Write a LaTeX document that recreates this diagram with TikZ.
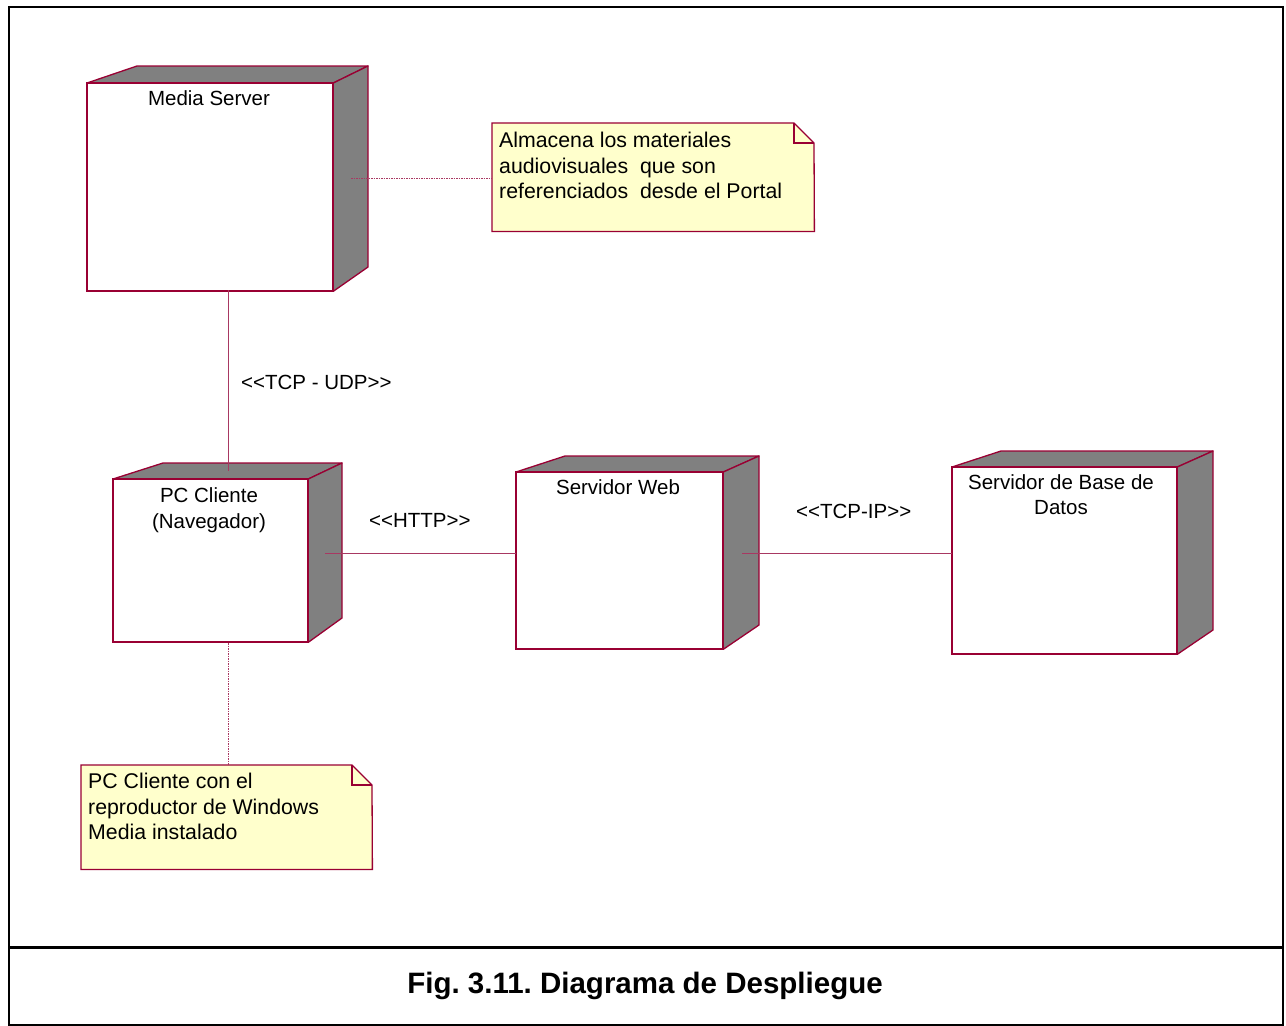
\documentclass[tikz,border=0pt]{standalone}
\usepackage{fontspec}
\setmainfont{Liberation Sans}
\usetikzlibrary{calc}
\frenchspacing
\definecolor{umlline}{HTML}{990033}
\definecolor{umlconn}{HTML}{A83862}
\definecolor{notefill}{HTML}{FFFFCC}
\definecolor{sideface}{HTML}{808080}
\begin{document}
\begin{tikzpicture}[x=1pt,y=-1pt,
  front/.style={draw=umlline,line width=1.3pt,fill=white,rectangle,anchor=north west,inner sep=0pt},
  face/.style={draw=umlline,line width=1.3pt,fill=sideface,line join=round},
  notebg/.style={rectangle,anchor=north west,inner sep=0pt},
  noteshape/.style={draw=umlline,line width=1.3pt,fill=notefill},
  txt/.style={font=\fontsize{20.5}{25.5}\selectfont,inner sep=0pt,align=center},
  notetxt/.style={font=\fontsize{21.3}{25.5}\selectfont,inner sep=0pt,align=left,anchor=north west},
  conn/.style={draw=umlconn,line width=1pt},
  dotconn/.style={draw=umlconn,line width=1pt,dash pattern=on 1.5pt off 1pt},
  lbl/.style={font=\fontsize{20.5}{25.5}\selectfont,inner sep=0pt,anchor=base west}]

\useasboundingbox (0,0) rectangle (1286,1026);

% frame and caption separator
\draw[line width=2.2pt] (9,7) rectangle (1283,1025);
\draw[line width=3pt] (9,947) -- (1283,947);
\node[font=\fontsize{29.5}{34}\selectfont\bfseries,inner sep=0pt,anchor=base] (caption) at (645,993) {Fig. 3.11. Diagrama de Despliegue};

% ---- Media Server ----
\node[front,minimum width=245pt,minimum height=207pt] (ms) at (87,83) {};
\coordinate (msbl) at (137,66); \coordinate (msbr) at (368,66); \coordinate (msbb) at (368,267);
% ---- PC Cliente ----
\node[front,minimum width=194pt,minimum height=162pt] (pc) at (113,479) {};
\coordinate (pcbl) at (163,463); \coordinate (pcbr) at (342,463); \coordinate (pcbb) at (342,618);
% ---- Servidor Web ----
\node[front,minimum width=206pt,minimum height=176pt] (sw) at (516,472) {};
\coordinate (swbl) at (565,456); \coordinate (swbr) at (759,456); \coordinate (swbb) at (759,625);
% ---- Servidor de Base de Datos ----
\node[front,minimum width=224pt,minimum height=186pt] (db) at (952,467) {};
\coordinate (dbbl) at (1001,451); \coordinate (dbbr) at (1213,451); \coordinate (dbbb) at (1213,630);

% 3D faces of the nodes
\foreach \n in {ms,pc,sw,db}{
  \filldraw[face] (\n.north west) -- (\n bl) -- (\n br) -- (\n.north east) -- cycle;
  \filldraw[face] (\n.north east) -- (\n br) -- (\n bb) -- (\n.south east) -- cycle;
}
\foreach \n in {ms,pc,sw,db}{
  \draw[draw=umlline,line width=1.3pt] (\n.north west) rectangle (\n.south east);
}

% connectors, starting on the shaded faces
\coordinate (msfoot) at (228,290);
\coordinate (pctop) at (228,471);
\coordinate (pcside) at (325,553);
\coordinate (swside) at (742,553);
\coordinate (msside) at (351,178);
\coordinate (pcfoot) at (228,643);
\draw[conn] (msfoot) -- (pctop);
\draw[conn] (pcside) -- (sw.west |- pcside);
\draw[conn] (swside) -- (db.west |- swside);

% node names
\node[txt,anchor=base] (mst) at (209,105) {Media Server};
\node[txt,anchor=base] (pct) at (209,502) {PC Cliente};
\node[txt,anchor=base] (pct2) at (209,528) {(Navegador)};
\node[txt,anchor=base] (swt) at (618,494) {Servidor Web};
\node[txt,anchor=base] (dbt) at (1061,489) {Servidor de Base de};
\node[txt,anchor=base] (dbt2) at (1061,514) {Datos};

% connector stereotypes
\node[lbl] (l1) at (241,389) {<{}<TCP - UDP>{}>};
\node[lbl] (l2) at (369,527) {<{}<HTTP>{}>};
\node[lbl] (l3) at (796,518) {<{}<TCP-IP>{}>};

% notes
\node[notebg,minimum width=322pt,minimum height=108pt] (n1) at (492,123) {};
\filldraw[noteshape] (n1.north west) -- (794,123) -- (814,143) -- (n1.south east) -- (n1.south west) -- cycle;
\draw[draw=umlline,line width=1.3pt] (794,123) -- (794,143) -- (814,143);
\node[notetxt] (n1t) at (499,132) {Almacena los materiales\\audiovisuales\ \ que son\\referenciados\ \ desde el Portal};
\draw[dotconn] (msside) -- (n1.west |- msside);

\node[notebg,minimum width=291pt,minimum height=104pt] (n2) at (81,765) {};
\filldraw[noteshape] (n2.north west) -- (352,765) -- (372,785) -- (n2.south east) -- (n2.south west) -- cycle;
\draw[draw=umlline,line width=1.3pt] (352,765) -- (352,785) -- (372,785);
\node[notetxt] (n2t) at (88,773) {PC Cliente con el\\reproductor de Windows\\Media instalado};
\draw[dotconn] (pcfoot) -- (pcfoot |- n2.north);
\end{tikzpicture}
\end{document}
